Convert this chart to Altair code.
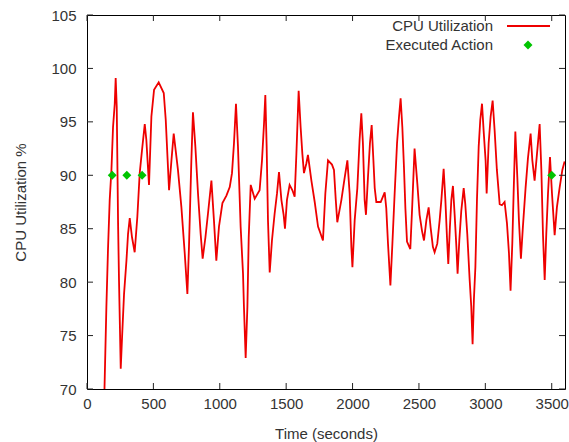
import altair as alt
import pandas as pd

# ---- data ----
time_s = [128, 140, 146, 158, 171, 184, 196, 209, 216, 224, 234, 241, 254, 264, 279, 297, 309, 322,
          339, 359, 379, 397, 414, 435, 447, 467, 485, 505, 540, 578, 593, 618, 636, 653,
          685, 711, 736, 756, 768, 786, 798, 816, 836, 856, 871, 892, 911, 937, 956, 974, 994,
          1020, 1050, 1075, 1092, 1107, 1122, 1137, 1157, 1175, 1182, 1195, 1208, 1218, 1233, 1263,
          1300, 1318, 1333, 1343, 1353, 1363, 1376, 1393, 1413, 1431, 1446, 1464, 1481, 1491, 1506,
          1526, 1547, 1564, 1577, 1594, 1609, 1622, 1634, 1652, 1664, 1690, 1715, 1740, 1760, 1777,
          1795, 1815, 1845, 1860, 1873, 1885, 1916, 1941, 1961, 1978, 1991, 1999, 2016, 2036, 2053,
          2066, 2078, 2091, 2101, 2116, 2131, 2144, 2157, 2167, 2179, 2212, 2242, 2254, 2267, 2285,
          2300, 2317, 2335, 2350, 2362, 2375, 2387, 2398, 2410, 2435, 2450, 2467, 2488, 2505, 2523,
          2538, 2556, 2573, 2588, 2605, 2618, 2638, 2656, 2669, 2686, 2699, 2711, 2721, 2733, 2744,
          2756, 2769, 2782, 2791, 2804, 2819, 2837, 2849, 2864, 2882, 2894, 2904, 2914, 2925, 2937,
          2950, 2962, 2975, 2987, 3002, 3010, 3025, 3040, 3055, 3070, 3087, 3108, 3125, 3145, 3163,
          3178, 3190, 3203, 3213, 3226, 3241, 3253, 3268, 3283, 3303, 3321, 3341, 3354, 3371, 3389,
          3409, 3422, 3434, 3447, 3459, 3472, 3487, 3502, 3522, 3539, 3559, 3580, 3597]
cpu_util = [68.0, 74.5, 77.7, 83.0, 87.7, 90.5, 94.5, 96.7, 99.1, 96.4, 85.5, 80.2, 71.9, 74.8, 78.9, 82.0, 84.5, 86.0,
            84.2, 82.8, 86.1, 90.2, 92.3, 94.8, 93.3, 89.1, 95.5, 98.0, 98.7, 97.7, 95.2, 88.6, 91.4, 93.9,
            90.5, 87.0, 82.7, 78.9, 83.3, 91.4, 95.9, 92.7, 88.3, 84.5, 82.2, 84.2, 86.4, 89.5, 85.8, 82.0, 85.2,
            87.4, 88.1, 88.9, 90.2, 93.0, 96.7, 92.7, 85.2, 80.8, 77.7, 72.9, 77.7, 84.2, 89.1, 87.8,
            88.6, 91.4, 94.8, 97.5, 92.7, 85.8, 80.9, 83.9, 86.4, 88.3, 90.3, 87.7, 86.3, 85.0, 87.7,
            89.1, 88.6, 88.0, 92.0, 97.9, 94.5, 92.0, 90.2, 91.1, 91.9, 89.5, 87.5, 85.2, 84.5, 83.9,
            88.3, 91.4, 91.0, 90.5, 87.8, 85.6, 87.7, 89.8, 91.4, 88.3, 83.3, 81.4, 85.8, 88.8, 93.3,
            95.8, 93.0, 87.7, 86.3, 89.8, 93.0, 94.7, 91.4, 88.8, 87.5, 87.5, 88.4, 86.9, 83.6, 79.7,
            83.6, 88.3, 93.0, 95.5, 97.2, 94.5, 90.8, 86.9, 83.8, 83.1, 87.3, 92.5, 89.2, 86.3, 84.8,
            83.9, 85.8, 87.0, 85.1, 83.3, 82.8, 83.6, 85.8, 87.7, 90.6, 87.7, 84.2, 81.7, 85.1, 87.7,
            89.0, 86.3, 83.3, 80.8, 83.9, 86.7, 88.8, 87.3, 84.5, 80.2, 77.7, 74.2, 78.4, 81.4, 87.7,
            92.7, 95.2, 96.7, 94.2, 91.4, 88.3, 93.0, 95.5, 97.0, 94.2, 90.5, 87.3, 87.2, 87.5, 85.5,
            82.7, 79.2, 83.6, 88.3, 94.1, 89.8, 85.8, 82.2, 85.2, 88.8, 91.6, 93.9, 91.4, 89.5, 92.0,
            94.8, 90.5, 84.5, 80.2, 84.5, 88.3, 91.7, 88.3, 84.4, 87.0, 88.8, 90.5, 91.3]
action_time = [190, 300, 415, 3500]
action_value = [90, 90, 90, 90]

x_ticks = [0, 500, 1000, 1500, 2000, 2500, 3000, 3500]
y_ticks = [70, 75, 80, 85, 90, 95, 100, 105]
legend_labels = ["CPU Utilization", "Executed Action"]
x_title = "Time (seconds)"
y_title = "CPU Utilization %"

X_MIN, X_MAX = 0, 3600
Y_MIN, Y_MAX = 70, 105
W, H = 478, 374
FONT = "Liberation Sans"
FS = 15
TXT = "#333333"
RED = "#ee0000"
GREEN = "#00c400"
TC = "#222222"
TK_PX = 6
# inward tick length converted to data units of each scale
TK_Y = TK_PX * (Y_MAX - Y_MIN) / H
TK_X = TK_PX * (X_MAX - X_MIN) / W

line_df = pd.DataFrame({"t": time_s, "cpu": cpu_util})
act_df = pd.DataFrame({"t": action_time, "cpu": action_value})
xt_df = pd.DataFrame({"tick": x_ticks})
yt_df = pd.DataFrame({"tick": y_ticks})
one = pd.DataFrame({"a": [0]})

xscale = alt.Scale(domain=[X_MIN, X_MAX], nice=False, zero=False)
yscale = alt.Scale(domain=[Y_MIN, Y_MAX], nice=False, zero=False)

xaxis = alt.Axis(values=x_ticks, format="d", ticks=False, domain=False, grid=False, labelPadding=7,
                 labelFontSize=FS, labelFont=FONT, labelColor=TXT,
                 title=x_title, titleFont=FONT, titleFontSize=FS, titleFontWeight="normal",
                 titleColor=TXT, titleX=W / 2, titleY=44, titleBaseline="middle", titleAlign="center",
                 labelFlush=False)
yaxis = alt.Axis(values=y_ticks, format="d", ticks=False, domain=False, grid=False, labelPadding=11,
                 labelFontSize=FS, labelFont=FONT, labelColor=TXT,
                 title=y_title, titleFont=FONT, titleFontSize=FS, titleFontWeight="normal",
                 titleColor=TXT, titleX=-67, titleY=H / 2, titleAngle=270,
                 titleBaseline="middle", titleAlign="center", labelFlush=False)

line = alt.Chart(line_df).mark_line(color=RED, strokeWidth=1.8, clip=True).encode(
    x=alt.X("t:Q", scale=xscale, axis=xaxis),
    y=alt.Y("cpu:Q", scale=yscale, axis=yaxis),
)
points = alt.Chart(act_df).mark_point(shape="diamond", filled=True, color=GREEN, size=80, opacity=1).encode(
    x=alt.X("t:Q", scale=xscale), y=alt.Y("cpu:Q", scale=yscale)
)

rule = dict(color=TC, strokeWidth=1, opacity=1)
tick_b = alt.Chart(xt_df).mark_rule(**rule).encode(
    x=alt.X("tick:Q", scale=xscale), y=alt.datum(Y_MIN), y2=alt.datum(Y_MIN + TK_Y))
tick_t = alt.Chart(xt_df).mark_rule(**rule).encode(
    x=alt.X("tick:Q", scale=xscale), y=alt.datum(Y_MAX), y2=alt.datum(Y_MAX - TK_Y))
tick_l = alt.Chart(yt_df).mark_rule(**rule).encode(
    y=alt.Y("tick:Q", scale=yscale), x=alt.datum(X_MIN), x2=alt.datum(X_MIN + TK_X))
tick_r = alt.Chart(yt_df).mark_rule(**rule).encode(
    y=alt.Y("tick:Q", scale=yscale), x=alt.datum(X_MAX), x2=alt.datum(X_MAX - TK_X))

leg_t1 = alt.Chart(one).mark_text(align="right", baseline="middle", font=FONT, fontSize=FS, color=TXT).encode(
    x=alt.value(406), y=alt.value(11), text=alt.value(legend_labels[0]))
leg_t2 = alt.Chart(one).mark_text(align="right", baseline="middle", font=FONT, fontSize=FS, color=TXT).encode(
    x=alt.value(406), y=alt.value(30), text=alt.value(legend_labels[1]))
leg_l = alt.Chart(one).mark_rule(color=RED, strokeWidth=1.8).encode(
    x=alt.value(420), x2=alt.value(463), y=alt.value(11))
leg_p = alt.Chart(one).mark_point(shape="diamond", filled=True, color=GREEN, size=80, opacity=1).encode(
    x=alt.value(441), y=alt.value(30))

chart = alt.layer(line, points, tick_b, tick_t, tick_l, tick_r, leg_t1, leg_t2, leg_l, leg_p).properties(
    width=W, height=H,
    autosize=alt.AutoSizeParams(type="none"),
    padding={"left": 87, "top": 15, "right": 4, "bottom": 53},
    background="white",
).configure_view(stroke="#000000", strokeWidth=1)

chart.save("out.html", embed_options={"renderer": "svg", "actions": False})
